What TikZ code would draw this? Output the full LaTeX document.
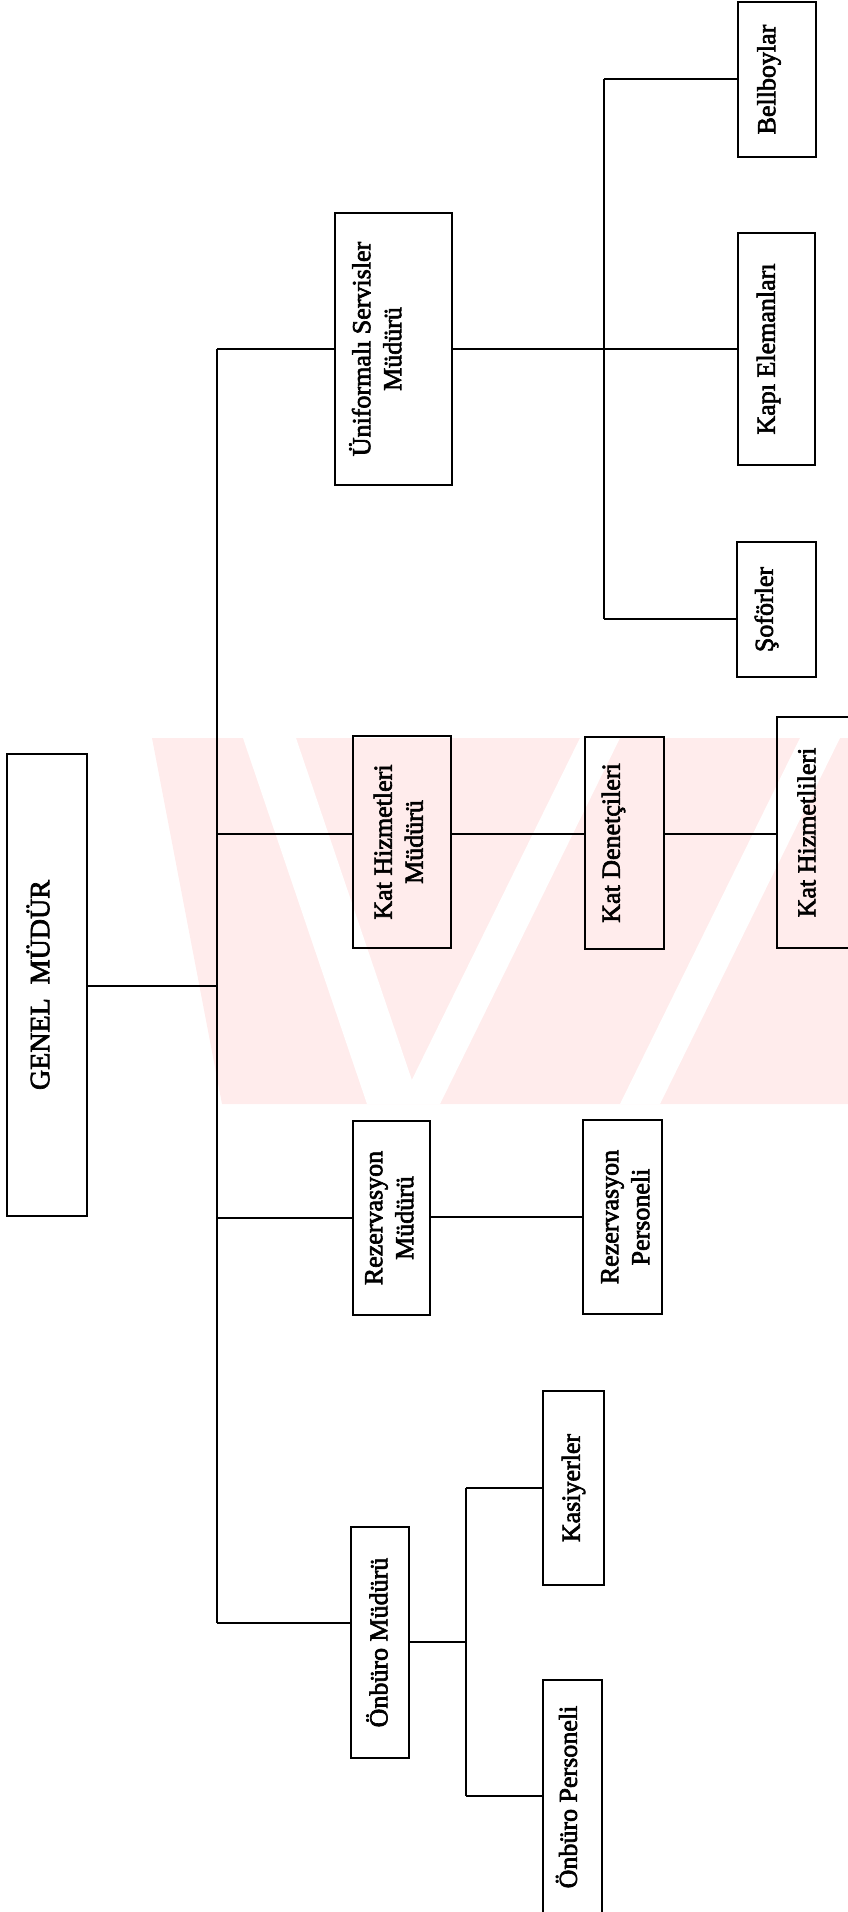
\documentclass[tikz,border=0pt]{standalone}
\usepackage{fontspec}
\setmainfont{Liberation Serif}
\newfontfamily\boxfont{Liberation Serif}[FakeBold=2.5]
\newcommand{\rt}[2]{\rotatebox{90}{#2}\hspace*{#1}}
\newcommand{\rtt}[3]{\rotatebox{90}{\begin{tabular}{@{}c@{}}#2\\#3\end{tabular}}\hspace*{#1}}
\begin{document}
\begin{tikzpicture}[x=1pt,y=-1pt,
  box/.style={draw, line width=2pt, inner sep=0pt, fill=none,
    font=\boxfont\fontsize{26}{31}\selectfont},
  conn/.style={line width=1.8pt},
  wm/.style={fill=pink!30!white, draw=none}]
\useasboundingbox (0,0) rectangle (848,1912);
\clip (0,0) rectangle (848,1912);
% watermark
\fill[wm] (152,738) -- (848,738) -- (848,1104) -- (222,1104) -- cycle;
\fill[white] (243,738) -- (296,738) -- (420,1104) -- (367,1104) -- cycle;
\fill[white] (400,1104) -- (440,1104) -- (620,738) -- (580,738) -- cycle;
\fill[white] (620,1104) -- (660,1104) -- (840,738) -- (800,738) -- cycle;
% boxes
\node[box, minimum width=80, minimum height=462] (gm) at (47,985) {\rt{18pt}{\fontsize{28}{31}\selectfont GENEL\ \ MÜDÜR}};
\node[box, minimum width=117, minimum height=272] (us) at (393.5,349) {\rtt{28pt}{Üniformalı Servisler}{Müdürü}};
\node[box, minimum width=98, minimum height=212] (khm) at (402,842) {\rtt{2pt}{Kat Hizmetleri}{Müdürü}};
\node[box, minimum width=79, minimum height=212] (kd) at (624.5,843) {\rt{22pt}{Kat Denetçileri}};
\node[box, minimum width=93, minimum height=231] (khl) at (823.5,832.5) {\rt{34pt}{Kat Hizmetlileri}};
\node[box, minimum width=77, minimum height=194] (rm) at (391.5,1218) {\rtt{0pt}{Rezervasyon}{Müdürü}};
\node[box, minimum width=79, minimum height=194] (rp) at (622.5,1217) {\hspace*{10pt}\rtt{0pt}{Rezervasyon}{Personeli}};
\node[box, minimum width=58, minimum height=231] (om) at (380,1642.5) {\rt{6pt}{Önbüro Müdürü}};
\node[box, minimum width=61, minimum height=194] (kas) at (573.5,1488) {\rt{0pt}{Kasiyerler}};
\node[box, minimum width=59, minimum height=234] (op) at (572.5,1797) {\rt{12pt}{Önbüro Personeli}};
\node[box, minimum width=78, minimum height=155] (bb) at (777,79.5) {\rt{16pt}{Bellboylar}};
\node[box, minimum width=77, minimum height=232] (ke) at (776.5,349) {\rt{16pt}{Kapı Elemanları}};
\node[box, minimum width=79, minimum height=135] (so) at (776.5,609.5) {\rt{20pt}{Şoförler}};
% junctions
\coordinate (s0) at (217,986);
\coordinate (sT) at (217,349);
\coordinate (sB) at (217,1623);
\coordinate (uT) at (604,79);
\coordinate (uB) at (604,619);
\coordinate (oT) at (466,1488);
\coordinate (oB) at (466,1796);
\coordinate (oM) at (466,1642);
% connectors
\draw[conn] (gm.east |- s0) -- (s0);
\draw[conn] (sT) -- (sB);
\draw[conn] (sT) -- (us.west |- sT);
\draw[conn] (217,834) -- (khm.west |- 0,834);
\draw[conn] (217,1218) -- (rm.west |- 0,1218);
\draw[conn] (sB) -- (om.west |- sB);
\draw[conn] (us.east |- sT) -- (ke.west |- sT);
\draw[conn] (uT) -- (uB);
\draw[conn] (uT) -- (bb.west |- uT);
\draw[conn] (uB) -- (so.west |- uB);
\draw[conn] (khm.east |- 0,834) -- (kd.west |- 0,834);
\draw[conn] (kd.east |- 0,834) -- (khl.west |- 0,834);
\draw[conn] (rm.east |- 0,1217) -- (rp.west |- 0,1217);
\draw[conn] (om.east |- oM) -- (oM);
\draw[conn] (oT) -- (oB);
\draw[conn] (oT) -- (kas.west |- oT);
\draw[conn] (oB) -- (op.west |- oB);
\end{tikzpicture}
\end{document}
